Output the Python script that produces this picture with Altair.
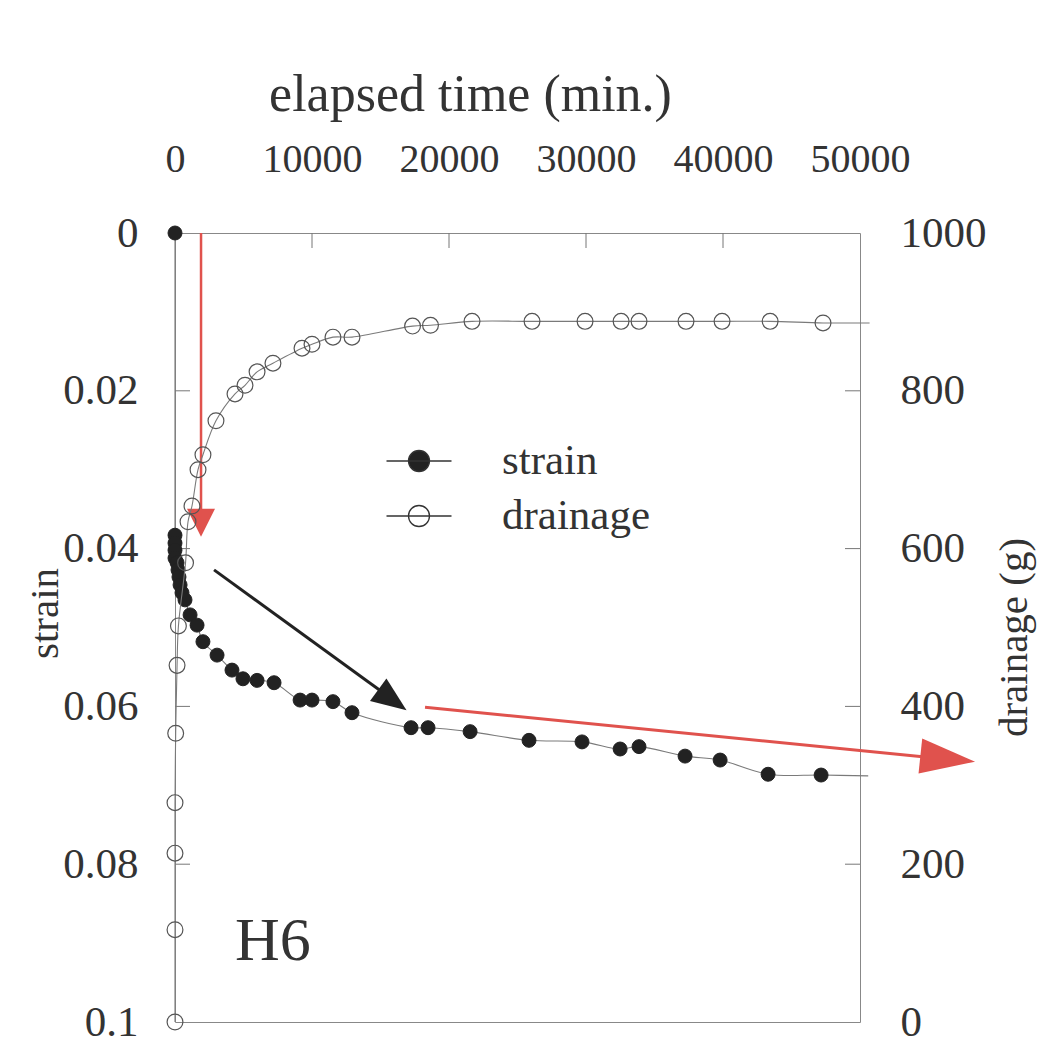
import altair as alt
import pandas as pd

FONT = "Liberation Serif"
INK = "#333333"
RED = "#e0524d"

# ---- axis ticks -------------------------------------------------------------
time_ticks = [0, 10000, 20000, 30000, 40000, 50000]
inner_time_ticks = [10000, 20000, 30000, 40000]
strain_ticks = [0, 0.02, 0.04, 0.06, 0.08, 0.1]
inner_strain_ticks = [0.02, 0.04, 0.06, 0.08]
drain_ticks = [0, 200, 400, 600, 800, 1000]
inner_drain_ticks = [200, 400, 600, 800]

# ---- strain series (elapsed time in min., strain) ---------------------------
strain_time = [0, 0, 0, 0, 0, 150, 220, 290, 370, 510, 730, 1100, 1610, 2040,
               3070, 4160, 4960, 5990, 7230, 9130, 10000, 11530, 12920, 17230,
               18470, 21540, 25840, 29710, 32490, 33870, 37230, 39790, 43290,
               47160]
strain_value = [0, 0.0383, 0.0393, 0.0402, 0.0412, 0.0418, 0.0427, 0.0436,
                0.0446, 0.0456, 0.0465, 0.0484, 0.0497, 0.0518, 0.0535, 0.0554,
                0.0565, 0.0567, 0.0570, 0.0592, 0.0592, 0.0594, 0.0608, 0.0627,
                0.0627, 0.0632, 0.0643, 0.0645, 0.0654, 0.0651, 0.0663, 0.0668,
                0.0686, 0.0687]
strain_curve_end_time = [50600]
strain_curve_end_value = [0.0688]

# ---- drainage series (elapsed time in min., drainage g) ---------------------
drain_time = [0, 0, 0, 0, 50, 150, 250, 770, 950, 1240, 1680, 2040, 2990, 4380,
              5110, 5990, 7150, 9270, 10000, 11530, 12920, 17340, 18650, 21680,
              26060, 29930, 32560, 33870, 37300, 39930, 43440, 47300]
drain_value = [0, 117, 214, 278, 366, 452, 502, 582, 634, 654, 700, 719, 762,
               796, 807, 824, 835, 854, 859, 868, 868, 882, 883, 888, 888, 888,
               888, 888, 888, 888, 888, 886]
drain_curve_end_time = [50700]
drain_curve_end_value = [886]

series_names = ["strain", "drainage"]
series_fills = ["#222222", "transparent"]

# ---- annotation arrows (data units: time, strain) ---------------------------
arrow_start_time = [1900, 2850, 18250]
arrow_start_strain = [0.0, 0.0427, 0.0601]
arrow_base_time = [1900, 15150, 54750]
arrow_base_strain = [0.0350, 0.0582, 0.0664]
arrow_tip_time = [1900, 16900, 58400]
arrow_tip_strain = [0.0385, 0.0605, 0.0670]

panel_label = ["H6"]

# ---- scales & axes ----------------------------------------------------------
xscale = alt.Scale(domain=[0, 50000], nice=False, zero=False)
sscale = alt.Scale(domain=[0, 0.1], reverse=True, nice=False, zero=False)
dscale = alt.Scale(domain=[0, 1000], nice=False, zero=False)

xaxis = alt.Axis(orient="top", values=time_ticks, format="d",
                 title="elapsed time (min.)", ticks=False, tickSize=0,
                 domain=False, grid=False, labelFlush=False, labelOverlap=False,
                 labelFont=FONT, labelFontSize=40, labelColor=INK,
                 labelPadding=54, titleFont=FONT, titleFontSize=52,
                 titleFontWeight="normal", titleColor=INK, titleX=295,
                 titleY=-123, titleBaseline="alphabetic", titleAlign="center")
saxis = alt.Axis(orient="left", values=strain_ticks, format="~g",
                 title="strain", ticks=False, tickSize=0, domain=False,
                 grid=False, labelFlush=False, labelOverlap=False,
                 labelFont=FONT, labelFontSize=43, labelColor=INK,
                 labelPadding=37, titleFont=FONT, titleFontSize=41,
                 titleFontWeight="normal", titleColor=INK, titleAngle=270,
                 titleX=-118, titleY=380, titleBaseline="alphabetic",
                 titleAlign="center")
daxis = alt.Axis(orient="right", values=drain_ticks, format="d",
                 title="drainage (g)", ticks=False, tickSize=0, domain=False,
                 grid=False, labelFlush=False, labelOverlap=False,
                 labelFont=FONT, labelFontSize=43, labelColor=INK,
                 labelPadding=40, titleFont=FONT, titleFontSize=41,
                 titleFontWeight="normal", titleColor=INK, titleAngle=270,
                 titleX=166, titleY=404, titleBaseline="alphabetic",
                 titleAlign="center")


def X(f):
    return alt.X(f"{f}:Q", scale=xscale, axis=xaxis)


def S(f):
    return alt.Y(f"{f}:Q", scale=sscale, axis=saxis)


def D(f):
    return alt.Y(f"{f}:Q", scale=dscale, axis=daxis)


LEG_PATH = ("M-1.3,0L1.3,0M0.42,0A0.42,0.42,0,1,1,-0.42,0"
            "A0.42,0.42,0,1,1,0.42,0Z")
legend = alt.Legend(title=None, orient="none", legendX=218, legendY=202,
                    symbolType=LEG_PATH, symbolSize=2500,
                    symbolStrokeWidth=1.3, symbolStrokeColor=INK,
                    symbolOpacity=1, labelFont=FONT, labelFontSize=43,
                    labelColor=INK, labelOffset=57, rowPadding=7, padding=0,
                    labelLimit=400)
fill_scale = alt.Scale(domain=series_names, range=series_fills)

# ---- data frames ------------------------------------------------------------
strain_pts = pd.DataFrame({"t": strain_time, "s": strain_value,
                           "series": series_names[0]})
sc_t = strain_time + strain_curve_end_time
sc_v = strain_value + strain_curve_end_value
strain_curve = pd.DataFrame({"t": sc_t, "s": sc_v, "i": list(range(len(sc_t)))})

drain_pts = pd.DataFrame({"t": drain_time, "d": drain_value,
                          "series": series_names[1]})
dc_t = drain_time + drain_curve_end_time
dc_v = drain_value + drain_curve_end_value
drain_curve = pd.DataFrame({"t": dc_t, "d": dc_v, "i": list(range(len(dc_t)))})

# ---- strain group -----------------------------------------------------------
top_ticks = alt.Chart(pd.DataFrame({"t": inner_time_ticks})).mark_rule(
    color="#777777", strokeWidth=1).encode(
    x=X("t"), y=alt.value(0), y2=alt.value(15))
left_ticks = alt.Chart(pd.DataFrame({"s": inner_strain_ticks})).mark_rule(
    color="#777777", strokeWidth=1).encode(
    y=S("s"), x=alt.value(0), x2=alt.value(15))

strain_line = alt.Chart(strain_curve).mark_line(
    color="#7a7a7a", strokeWidth=1.1, interpolate="catmull-rom").encode(
    x=X("t"), y=S("s"), order="i:Q")
strain_points = alt.Chart(strain_pts).mark_point(
    filled=True, shape="circle", size=195, stroke="#222222", strokeWidth=1,
    opacity=1).encode(
    x=X("t"), y=S("s"),
    fill=alt.Fill("series:N", scale=fill_scale, legend=legend))


def arrow(i, color, width, head_path, head_size, angle):
    shaft_df = pd.DataFrame({"t": [arrow_start_time[i]],
                             "s": [arrow_start_strain[i]],
                             "t2": [arrow_base_time[i]],
                             "s2": [arrow_base_strain[i]]})
    head_df = pd.DataFrame({"t": [arrow_tip_time[i]],
                            "s": [arrow_tip_strain[i]]})
    shaft = alt.Chart(shaft_df).mark_rule(color=color, strokeWidth=width).encode(
        x=X("t"), y=S("s"), x2="t2", y2="s2")
    head = alt.Chart(head_df).mark_point(
        shape=head_path, size=head_size, angle=angle, filled=True,
        color=color, opacity=1, strokeWidth=0).encode(x=X("t"), y=S("s"))
    return [shaft, head]


arrows = []
arrows += arrow(0, RED, 2.5, "M0,0L-0.5,1L0.5,1Z", 3136, 180)
arrows += arrow(1, "#222222", 3, "M0,0L-0.4,1L0.4,1Z", 4900, 126)
arrows += arrow(2, RED, 3, "M0,0L-0.32,1L0.32,1Z", 12100, 96)

h6 = alt.Chart(pd.DataFrame({"label": panel_label})).mark_text(
    font=FONT, fontSize=62, color=INK, align="left",
    baseline="alphabetic").encode(
    text="label:N", x=alt.value(60), y=alt.value(727))

group_strain = alt.layer(top_ticks, left_ticks, strain_line, *arrows,
                         strain_points, h6)

# ---- drainage group ---------------------------------------------------------
right_ticks = alt.Chart(pd.DataFrame({"d": inner_drain_ticks})).mark_rule(
    color="#777777", strokeWidth=1).encode(
    y=D("d"), x=alt.value(670), x2=alt.value(685))
drain_line = alt.Chart(drain_curve).mark_line(
    color="#7a7a7a", strokeWidth=1.1, interpolate="catmull-rom").encode(
    x=X("t"), y=D("d"), order="i:Q")
drain_points = alt.Chart(drain_pts).mark_point(
    filled=True, shape="circle", size=250, stroke="#555555",
    strokeWidth=1.2, opacity=1).encode(
    x=X("t"), y=D("d"),
    fill=alt.Fill("series:N", scale=fill_scale, legend=legend))

group_drain = alt.layer(right_ticks, drain_line, drain_points)

chart = alt.layer(group_strain, group_drain).resolve_scale(
    y="independent"
).properties(
    width=685, height=789,
    autosize=alt.AutoSizeParams(type="none"),
    padding={"left": 175, "top": 233, "right": 192, "bottom": 26},
).configure_view(stroke="#888888", strokeWidth=1)

chart.save("out.html", embed_options={"renderer": "svg", "actions": False})
